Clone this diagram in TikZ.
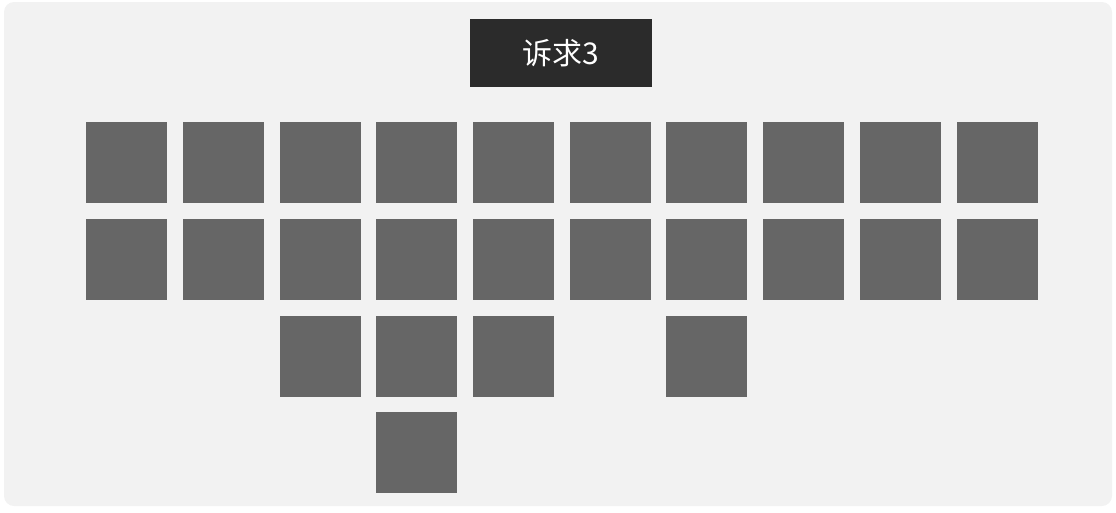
\documentclass[tikz,border=0pt]{standalone}
\usepackage{fontspec}
\newfontfamily\cjk{Noto Sans CJK SC}
\usetikzlibrary{positioning}
\definecolor{panel}{HTML}{F2F2F2}
\definecolor{cell}{HTML}{666666}
\definecolor{title}{HTML}{2B2B2B}

\begin{document}
\begin{tikzpicture}[x=1pt, y=-1pt,
    cellbox/.style={fill=cell, inner sep=0pt, minimum size=81pt, anchor=north west},
    titlebox/.style={fill=title, text=white, inner sep=0pt, minimum width=182pt, minimum height=68pt, font=\cjk\fontsize{30}{34}\selectfont}]
    \useasboundingbox (0,0) rectangle (1116,512);
    % background panel
    \fill[panel, rounded corners=10pt] (4,2) rectangle (1112,506);
    \node[titlebox] (req) at (561,53) {诉求3};
    % two full rows
    \foreach \r in {0,1}{
        \foreach \c in {0,...,9}{
            \node[cellbox] (cell-\r-\c) at ({86+96.7*\c},{122+96.7*\r}) {};
        }
    }
    % partial rows
    \foreach \c in {2,3,4,6}{
        \node[cellbox] (cell-2-\c) at ({86+96.7*\c},{122+96.7*2}) {};
    }
    \node[cellbox] (cell-3-3) at ({86+96.7*3},{122+96.7*3}) {};
\end{tikzpicture}
\end{document}
